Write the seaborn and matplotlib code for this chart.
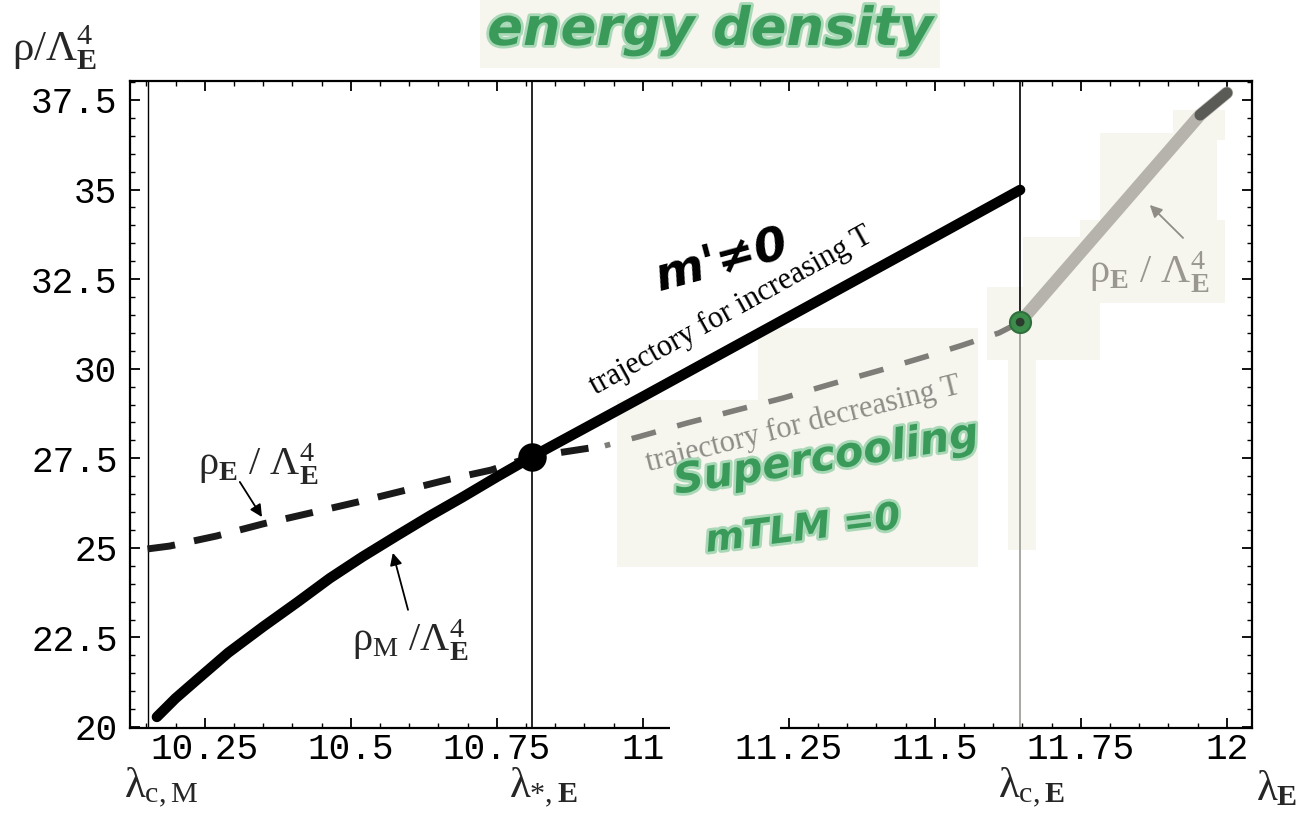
import numpy as np
import pandas as pd
import matplotlib
matplotlib.use("Agg")
import matplotlib.pyplot as plt
import matplotlib.patheffects as pe
from matplotlib.patches import Rectangle
from matplotlib.ticker import FixedLocator, FixedFormatter, MultipleLocator
import seaborn as sns

# critical couplings
lam_cM = 10.152
lam_star = 10.81
lam_cE = 11.646

# monopole-phase energy density rho_M / Lambda_E^4 (trajectory for increasing T)
lam_M = [10.168, 10.2, 10.236, 10.29, 10.35, 10.41, 10.464, 10.52, 10.578, 10.635,
         10.692, 10.75, 10.81, 11.0, 11.25, 11.5, 11.646]
rho_M = [20.28, 20.80, 21.31, 22.07, 22.80, 23.50, 24.15, 24.75, 25.33, 25.89,
         26.42, 26.98, 27.54, 29.22, 31.45, 33.68, 34.99]

# electric-phase energy density rho_E / Lambda_E^4 below lambda_c,E (incl. supercooled branch)
lam_E = [10.152, 10.19, 10.27, 10.35, 10.43, 10.512, 10.594, 10.67, 10.74, 10.81,
         10.935, 10.993, 11.075, 11.157, 11.24, 11.32, 11.405, 11.487, 11.546, 11.61, 11.646]
rho_E = [24.97, 25.05, 25.33, 25.67, 25.97, 26.28, 26.61, 26.92, 27.17, 27.54,
         27.85, 28.10, 28.48, 28.83, 29.18, 29.56, 29.95, 30.35, 30.65, 31.00, 31.30]
lam_split = 10.935

# electric-phase energy density above lambda_c,E
lam_E_hi = [11.646, 11.954, 12.0]
rho_E_hi = [31.30, 37.08, 37.70]

x_major = [10.25, 10.5, 10.75, 11.0, 11.25, 11.5, 11.75, 12.0]
x_labels = ["10.25", "10.5", "10.75", "11", "11.25", "11.5", "11.75", "12"]
y_major = [20, 22.5, 25, 27.5, 30, 32.5, 35, 37.5]
y_labels = ["20", "22.5", "25", "27.5", "30", "32.5", "35", "37.5"]

sns.set_theme(style="ticks")
plt.rcParams.update({
    "font.family": ["Liberation Serif", "DejaVu Serif"],
    "mathtext.fontset": "custom",
    "mathtext.rm": "Liberation Serif",
    "mathtext.it": "Liberation Serif",
    "mathtext.bf": "Liberation Serif:bold",
    "lines.scale_dashes": False,
    "axes.edgecolor": "black",
})

W, H = 1306, 814
fig = plt.figure(figsize=(W / 100, H / 100), dpi=100)
ax = fig.add_axes([130 / W, 1 - 728 / H, (1252 - 130) / W, (728 - 81) / H])
ax.set_facecolor("white")
ax.set_xlim(10.122, 12.043)
ax.set_ylim(19.972, 38.03)

BEIGE = "#f6f5ee"


def paper(x0, y0, x1, y1, color=BEIGE, z=0.5):
    ax.add_patch(Rectangle((x0 / W, 1 - y1 / H), (x1 - x0) / W, (y1 - y0) / H,
                           transform=fig.transFigure, clip_on=False,
                           facecolor=color, edgecolor="none", zorder=z))


# pasted paper notes
paper(480, 0, 940, 68)
paper(617, 400, 978, 567)
paper(758, 328, 978, 400)
paper(1100, 133, 1217, 303)
paper(1173, 110, 1225, 140)
paper(1080, 220, 1225, 303)
paper(1023, 237, 1100, 360)
paper(987, 287, 1023, 360)
paper(1008, 360, 1036, 550)

# vertical markers at the critical couplings
ax.vlines(lam_cM, 19.972, 38.03, color="black", lw=1.0, zorder=1)
ax.vlines(lam_star, 19.972, 38.03, color="black", lw=1.2, zorder=1)
ax.vlines(lam_cE, 31.3, 38.03, color="black", lw=1.2, zorder=1)
ax.vlines(lam_cE, 19.972, 31.3, color="#9a9994", lw=1.2, zorder=1)

df_M = pd.DataFrame({"lam": lam_M, "rho": rho_M})
df_E = pd.DataFrame({"lam": lam_E, "rho": rho_E})
df_hi = pd.DataFrame({"lam": lam_E_hi, "rho": rho_E_hi})

# rho_E, stable part and start of supercooling (black dashes)
sns.lineplot(data=df_E[df_E["lam"] <= lam_split], x="lam", y="rho", ax=ax, sort=False,
             estimator=None, color="#1a1a1a", lw=5.0, linestyle=(0, (20, 14)),
             solid_capstyle="butt", dash_capstyle="butt", zorder=3)
# supercooled branch (grey dashes)
sns.lineplot(data=df_E[df_E["lam"] >= lam_split], x="lam", y="rho", ax=ax, sort=False,
             estimator=None, color="#7e7d77", lw=4.0, linestyle=(14, (18, 16)),
             dash_capstyle="butt", zorder=3)
# rho_E above lambda_c,E
sns.lineplot(data=df_hi, x="lam", y="rho", ax=ax, sort=False, estimator=None,
             color="#b5b3ab", lw=9, solid_capstyle="round", zorder=3)
sns.lineplot(data=df_hi[df_hi["lam"] >= 11.95], x="lam", y="rho", ax=ax, sort=False,
             estimator=None, color="#5a5a57", lw=8, solid_capstyle="round", zorder=3)
# rho_M
sns.lineplot(data=df_M, x="lam", y="rho", ax=ax, sort=False, estimator=None,
             color="black", lw=7.5, solid_capstyle="round", solid_joinstyle="round", zorder=4)

# transition points
sns.scatterplot(x=[lam_star], y=[27.54], ax=ax, s=360, color="black",
                edgecolor="black", zorder=5)
sns.scatterplot(x=[lam_cE], y=[31.3], ax=ax, s=230, color="#3c8c4c",
                edgecolor="#2f6f3c", linewidth=1.5, zorder=5)
sns.scatterplot(x=[lam_cE], y=[31.3], ax=ax, s=40, color="#2b3b2e",
                edgecolor="none", zorder=6)

ax.set_xlabel("")
ax.set_ylabel("")

# Mathematica-style frame ticks
ax.xaxis.set_major_locator(FixedLocator(x_major))
ax.xaxis.set_major_formatter(FixedFormatter(x_labels))
ax.xaxis.set_minor_locator(MultipleLocator(0.05))
ax.yaxis.set_major_locator(FixedLocator(y_major))
ax.yaxis.set_major_formatter(FixedFormatter(y_labels))
ax.yaxis.set_minor_locator(MultipleLocator(0.5))
ax.tick_params(which="both", direction="in", top=True, right=True, color="black")
ax.tick_params(which="major", length=7, width=1.3)
ax.tick_params(which="minor", length=3.5, width=1.0)
ax.tick_params(axis="x", which="major", pad=3)
ax.tick_params(axis="y", which="major", pad=9)
for lab in ax.get_xticklabels() + ax.get_yticklabels():
    lab.set_fontfamily("Liberation Mono")
    lab.set_fontsize(26)
    lab.set_color("black")
for sp in ax.spines.values():
    sp.set_linewidth(1.6)
    sp.set_color("black")

# gap in the bottom frame line
paper(670, 721, 780, 735, color="white", z=6)

# axis names and coupling markers
fig.text(12 / W, 1 - 60 / H, r"$\rho/\Lambda_{\mathbf{E}}^{4}$", fontsize=31,
         ha="left", va="baseline")
fig.text(1256 / W, 1 - 800 / H, r"$\lambda_{\mathbf{E}}$", fontsize=31,
         ha="left", va="baseline")
for lam, txt, dx in [(lam_cM, r"$\lambda_{\mathrm{c,M}}$", 10),
                     (lam_star, r"$\lambda_{*,\mathbf{E}}$", 8),
                     (lam_cE, r"$\lambda_{\mathrm{c},\mathbf{E}}$", 8)]:
    ax.annotate(txt, xy=(lam, 19.972), xycoords="data", xytext=(dx, -50),
                textcoords="offset points", fontsize=31, ha="center",
                va="baseline", annotation_clip=False)

# curve labels with pointers
arrow_k = dict(arrowstyle="-|>", lw=1.3, mutation_scale=18, shrinkA=0, shrinkB=0)
ax.text(10.341, 27.34, r"$\rho_{\mathbf{E}}\ /\ \Lambda_{\mathbf{E}}^{4}$", fontsize=29,
        ha="center", va="center")
ax.annotate("", xy=(10.348, 25.86), xytext=(10.310, 26.84),
            arrowprops=dict(color="black", **arrow_k))
ax.text(10.601, 22.42, r"$\rho_{\mathrm{M}}\ /\Lambda_{\mathbf{E}}^{4}$", fontsize=29,
        ha="center", va="center")
ax.annotate("", xy=(10.572, 24.86), xytext=(10.598, 23.27),
            arrowprops=dict(color="black", **arrow_k))
ax.text(11.868, 32.70, r"$\rho_{\mathbf{E}}\ /\ \Lambda_{\mathbf{E}}^{4}$", fontsize=29,
        ha="center", va="center", color="#999790")
ax.annotate("", xy=(11.868, 34.57), xytext=(11.925, 33.65),
            arrowprops=dict(color="#8f8d86", **arrow_k))

ax.text(11.151, 31.6, "trajectory for increasing T", fontsize=22, rotation=29,
        ha="center", va="center", color="black", zorder=7)
ax.text(11.275, 28.45, "trajectory for decreasing T", fontsize=22, rotation=14,
        ha="center", va="center", color="#8d8c86", zorder=7)

# handwritten notes
glow = [pe.withStroke(linewidth=4, foreground="#a8d8b6")]
hand = dict(family="DejaVu Sans", fontstyle="oblique", fontweight="bold")
fig.text(710 / W, 1 - 30 / H, "energy density", fontsize=38, color="#3a9a5a",
         ha="center", va="center", path_effects=glow, **hand)
fig.text(826 / W, 1 - 458 / H, "Supercooling", fontsize=30, color="#3a9a5a",
         rotation=9, ha="center", va="center", path_effects=glow, **hand)
fig.text(803 / W, 1 - 530 / H, "mTLM =0", fontsize=27, color="#3a9a5a",
         rotation=7, ha="center", va="center", path_effects=glow, **hand)
fig.text(722 / W, 1 - 262 / H, "m'≠0", fontsize=34, color="black",
         rotation=15, ha="center", va="center", **hand)

fig.savefig("out.png", dpi=100, facecolor="white")
